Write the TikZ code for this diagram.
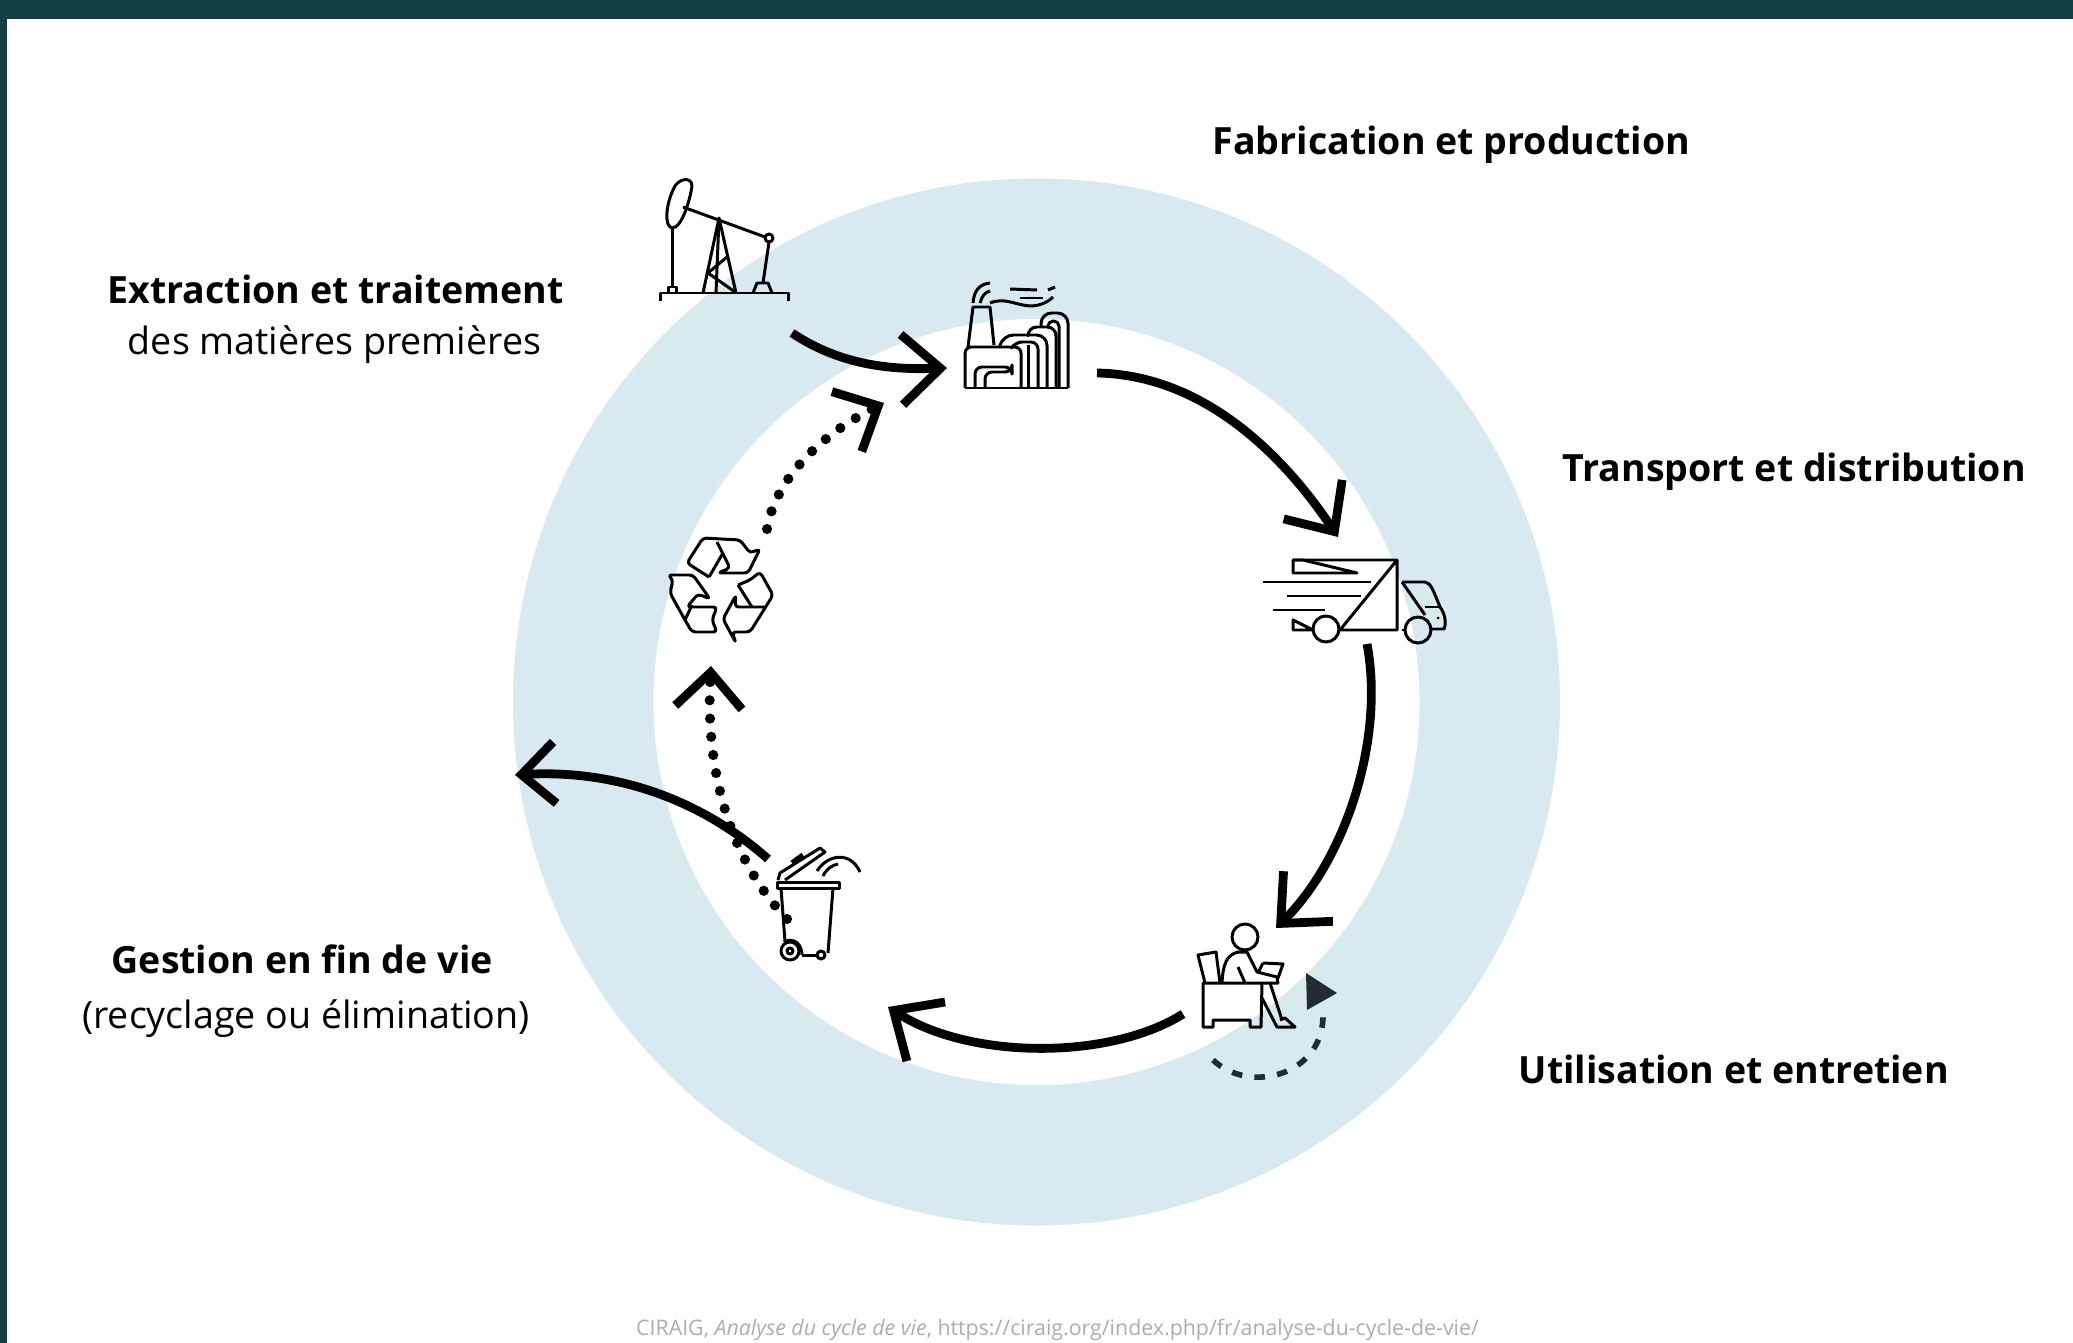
\documentclass[tikz,border=0pt]{standalone}
\usepackage{fontspec}
\setmainfont{Open Sans}
\usetikzlibrary{arrows.meta}
\definecolor{bandeau}{HTML}{123F42}
\definecolor{anneau}{HTML}{D8EAEF}
\definecolor{fleche}{HTML}{222B30}
\tikzset{
  etape/.style={anchor=base west,inner sep=0pt,font=\fontsize{10.67}{13}\selectfont\bfseries},
  detail/.style={anchor=base,inner sep=0pt,font=\fontsize{10.7}{13}\selectfont},
  cycle/.style={line width=2.5pt,-{Straight Barb[length=11pt,width=20pt]}},
  cyclecourt/.style={line width=2.5pt,-{Straight Barb[length=9.5pt,width=17.5pt]}},
  recyc/.style={line width=2.9pt,line cap=round,dash pattern=on 0pt off 5.2pt,-{Straight Barb[length=10pt,width=19pt,line width=2.5pt,line cap=butt]}},
  icone/.style={line width=0.85pt,line join=round}
}
\begin{document}
\begin{tikzpicture}[x=0.01cm,y=-0.01cm]
\useasboundingbox (0,0) rectangle (2073,1343);
\fill [white] (0,0) rectangle (2073,1343);
\fill [bandeau] (0,0) rectangle (2073,19);
\fill [bandeau] (0,0) rectangle (7,1343);
\fill [anneau] (1036.5,702) circle [radius=523.5];
\fill [white] (1036.5,702) circle [radius=383];

\node [etape] (fabrication) at (1212,154.5) {Fabrication et production};
\node [etape] (extraction) at (107,303.5) {Extraction et traitement};
\node [detail] (matieres) at (334.5,354.5) {des matières premières};
\node [etape] (transport) at (1562,481.5) {Transport et distribution};
\node [etape] (gestion) at (111,973.5) {Gestion en fin de vie};
\node [detail] (recyclage) at (306,1028.5) {(recyclage ou élimination)};
\node [etape] (utilisation) at (1518,1083) {Utilisation et entretien};
\node [anchor=base,inner sep=0pt,text=black!32,font=\fontsize{6.07}{8}\selectfont] (source) at (1057.5,1335) {CIRAIG, \textit{Analyse du cycle de vie}, https://ciraig.org/index.php/fr/analyse-du-cycle-de-vie/};

% pompe
\begin{scope}[icone]
\draw (660,301) --(660,293) --(788,293) --(788,301);
\draw (672,228) .. controls (664,226) and (666,205) .. (673,190) .. controls (677,178) and (692,176) .. (692,186) .. controls (690,200) and (682,228) .. (672,228);
\draw (683,207) --(765,237);
\draw (769,238) circle [radius=4];
\draw (672,228) --(672,287);
\draw (668,293) --(668,287) --(676,287) --(676,293);
\draw (703,293) --(719,218) --(736,293);
\draw (719,218) --(716,293);
\draw (727,257) --(708,273) --(735,292);
\draw (769,242) --(763,283);
\draw (753,293) --(757,283) --(768,283) --(772,293);
\end{scope}

% usine
\begin{scope}[icone]
\draw (965,388) --(1068,388);
\draw [rounded corners=1.8pt] (965,388) --(965,347) --(1021,347) --(1021,388);
\draw (968,347) --(973,307) --(990,307) --(994,345);
\draw (990,303) .. controls (1005,297) and (1015,305) .. (1030,306) .. controls (1040,306) and (1048,302) .. (1053,297);
\draw (973,303) .. controls (974,290) and (980,284) .. (990,283);
\draw (980,303) .. controls (982,296) and (985,292) .. (990,291);
\draw (1010,289) --(1037,290);
\draw (1020,298) --(1043,298);
\draw (1048,290) --(1055,287);
\draw [rounded corners=3pt] (1068,388) --(1068,313) --(1041,313) --(1041,328);
\draw [rounded corners=1.5pt] (1059,388) --(1059,321) --(1048,321) --(1048,328);
\draw [rounded corners=2.5pt] (1056,388) --(1056,327) --(1028,327) --(1028,335);
\draw [rounded corners=3pt] (1000,345) --(1003,335) --(1047,335) --(1047,388);
\draw [rounded corners=2pt] (1012,347) --(1015,342) --(1038,342) --(1038,388);
\draw (1028,388) --(1028,345);
\draw [rounded corners=2pt] (975,388) --(975,367) --(1012,367) --(1012,372) --(985,372) --(985,388);
\end{scope}

% camion
\begin{scope}[icone]
\draw (1293,560) --(1397,560) --(1397,630) --(1340,630) --(1397,560);
\draw (1303,560) --(1293,560) --(1293,573) --(1357,573) --cycle;
\draw (1293,620) --(1293,630) --(1313,630) --cycle;
\draw (1326,629) circle [radius=13];
\draw (1263,582) --(1371,582);
\draw (1287,596) --(1361,596);
\draw (1273,610) --(1325,610);
\draw (1402,582) --(1425,582) .. controls (1431,583) and (1433,590) .. (1440,607) .. controls (1446,615) and (1446,625) .. (1444,629) --(1432,629);
\draw (1402,582) --(1425,615);
\draw (1418,630) circle [radius=13];
\draw (1425,607) --(1440,607);
\fill (1438,618) circle [radius=1.5];
\draw (1402,630) --(1405,630);
\end{scope}

% fauteuil
\begin{scope}[icone]
\draw (1245,937) circle [radius=13];
\draw (1205,983) --(1198,955) --(1216,952) --(1220,983);
\draw (1203,983) --(1262,983) --(1261,1027) --(1250,1027) --(1250,1020) --(1213,1020) --(1213,1027) --(1203,1027) --cycle;
\draw (1222,983) .. controls (1223,965) and (1226,955) .. (1238,952) --(1247,952) --(1257,972) --(1277,977) --(1278,983) --(1263,983);
\draw (1238,967) --(1245,983);
\draw (1263,963) --(1283,964) --(1278,978);
\draw (1263,963) --(1258,973);
\draw (1270,983) --(1282,1020);
\draw (1262,998) --(1277,1027) --(1295,1027) --(1285,1018) --(1280,1020);
\end{scope}

% poubelle
\begin{scope}[icone]
\draw (777,882) rectangle (839,888);
\draw (781,888) --(785,942);
\draw (833,888) --(828,953);
\draw (802,955) --(817,955);
\draw (790,951) circle [radius=9];
\draw (790,951) circle [radius=3];
\draw (786,941) .. controls (795,938) and (802,945) .. (802,955);
\draw (821,955) circle [radius=4];
\draw (778,880) --(780,873) --(820,848) --(825,852) --(785,880);
\draw [line width=1.5pt] (792,863) --(803,855);
\draw (817,871) .. controls (827,855) and (850,850) .. (860,872);
\draw (823,876) .. controls (827,868) and (833,865) .. (838,864);
\end{scope}

% recyclage
\begin{scope}[icone,rounded corners=1pt]
\draw (709,577) --(687,563) --(703,538) --(740,540) --(750,553) --(760,549) --(748,573) --(718,573) --(730,568) --(717,542);
\draw (709,577) --(723,553);
\draw (668,575) --(693,575) --(710,599) --(698,594) --(687,607) --(717,607) --(712,620) --(717,632) --(692,632) --(685,620) --(670,593) --(673,580) --cycle;
\draw (685,620) --(692,605);
\draw (738,585) --(750,580) --(760,572) --(773,595) --(765,608) --(750,632) --(732,632) --(736,643) --(723,619) --(736,595) --(735,607) --(765,607);
\draw (738,585) --(752,607);
\end{scope}

\coordinate (pompe) at (792,333);
\coordinate (usineE) at (947,368);
\coordinate (usineS) at (1097,373);
\coordinate (camionE) at (1338,537);
\coordinate (camionS) at (1367,644);
\coordinate (usageE) at (1276,928);
\coordinate (usageS) at (1183,1014);
\coordinate (finE) at (888,1007);
\coordinate (finS) at (768,859);
\coordinate (sortie) at (515,775);
\coordinate (bac) at (787,919);
\coordinate (triE) at (711,666);
\coordinate (triS) at (767,529);
\coordinate (retour) at (884,403);
\coordinate (boucleS) at (1213,1060);
\coordinate (boucleE) at (1323,1013);

\draw [cycle] (pompe) .. controls (840,365) and (890,370) .. (usineE);
\draw [cycle] (usineS) .. controls (1210,375) and (1290,465) .. (camionE);
\draw [cycle] (camionS) .. controls (1385,740) and (1345,860) .. (usageE);
\draw [cycle] (usageS) .. controls (1110,1060) and (970,1060) .. (finE);
\draw [cyclecourt] (finS) .. controls (690,790) and (600,770) .. (sortie);
\draw [recyc] (bac) .. controls (730,860) and (705,770) .. (triE);
\draw [recyc] (triS) .. controls (775,480) and (820,435) .. (retour);
\draw [fleche,line width=1.6pt,dash pattern=on 3pt off 3.5pt] (boucleS) .. controls (1250,1095) and (1325,1075) .. (boucleE);
\fill [fleche] (1306,973) --(1337,993) --(1307,1010) --cycle;
\end{tikzpicture}
\end{document}
